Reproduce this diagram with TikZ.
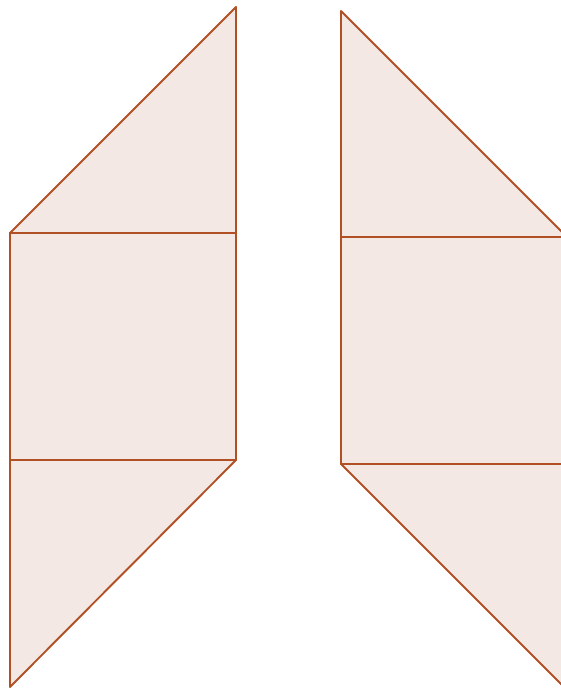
\documentclass[tikz,border=0pt]{standalone}
\definecolor{edge}{RGB}{176,80,36}
\definecolor{face}{RGB}{244,232,228}
\begin{document}
\begin{tikzpicture}[x=1pt,y=-1pt,
  piecefill/.style={fill=face},
  pieceedge/.style={draw=edge,line width=1.9pt,line join=round}]
\useasboundingbox (0,0) rectangle (561,693);
\clip (0,0) rectangle (561,693);
% left figure
\coordinate (LT) at (236,7);
\coordinate (LA) at (10,233);
\coordinate (LB) at (236,233);
\coordinate (LC) at (10,460);
\coordinate (LD) at (236,460);
\coordinate (LE) at (10,687);
% right figure
\coordinate (RT) at (341,11);
\coordinate (RA) at (341,237);
\coordinate (RB) at (567,237);
\coordinate (RC) at (341,464);
\coordinate (RD) at (567,464);
\coordinate (RE) at (567,690);
% fills
\fill[piecefill] (LA) -- (LT) -- (LB) -- (LD) -- (LE) -- cycle;
\fill[piecefill] (RT) -- (RB) -- (RE) -- (RC) -- cycle;
% edges
\draw[pieceedge] (LA) -- (LT) -- (LB) -- cycle;
\draw[pieceedge] (LA) -- (LB) -- (LD) -- (LC) -- cycle;
\draw[pieceedge] (LC) -- (LD) -- (LE) -- cycle;
\draw[pieceedge] (RT) -- (RA) -- (RB) -- cycle;
\draw[pieceedge] (RA) -- (RB) -- (RD) -- (RC) -- cycle;
\draw[pieceedge] (RC) -- (RD) -- (RE) -- cycle;
\end{tikzpicture}
\end{document}
